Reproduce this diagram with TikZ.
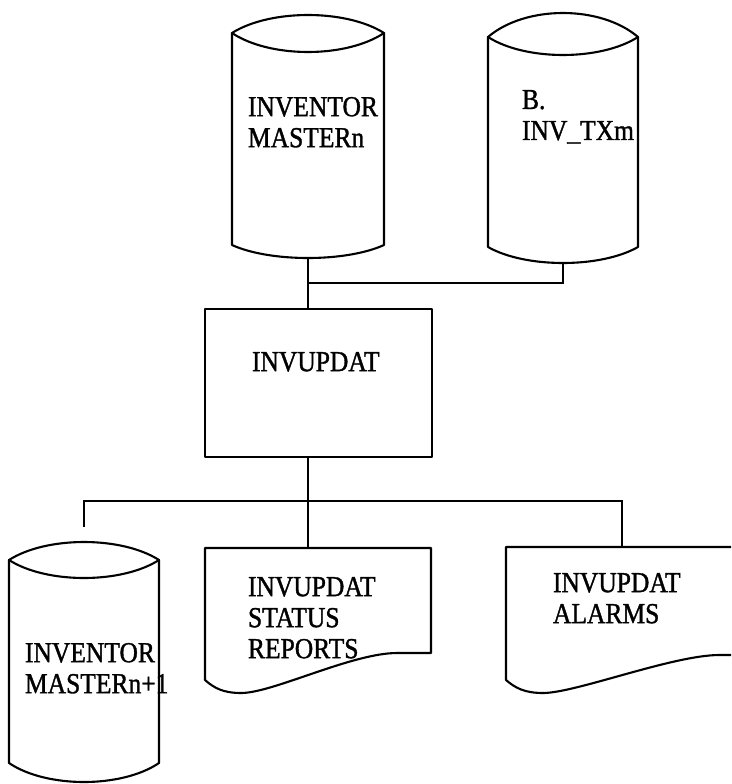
\documentclass[tikz,border=0pt]{standalone}
\usepackage{fontspec}
\setmainfont{Liberation Serif}[FakeStretch=0.88, FakeBold=1.2]
\usetikzlibrary{calc}
% cylinder: L R T(top of arc) C(corner) I(inner arc low) B(bottom corner) Z(bottom arc low)
\newcommand{\cylshape}[7]{%
  \pgfmathsetmacro{\cylw}{#2-#1}%
  \draw[shp] (#1,#4) .. controls ({#1+0.25*\cylw},{#4-(#4-#3)*4/3}) and ({#2-0.25*\cylw},{#4-(#4-#3)*4/3}) .. (#2,#4)
     -- (#2,#6) .. controls ({#2-0.25*\cylw},{#6+(#7-#6)*4/3}) and ({#1+0.25*\cylw},{#6+(#7-#6)*4/3}) .. (#1,#6) -- cycle;
  \draw[shp] (#1,#4) .. controls ({#1+0.25*\cylw},{#4+(#5-#4)*4/3}) and ({#2-0.25*\cylw},{#4+(#5-#4)*4/3}) .. (#2,#4);
}
% document: L R T RB(right bottom) LB(left bottom) Z(wave low) F(fraction where wave ends)
\newcommand{\docshape}[7]{%
  \pgfmathsetmacro{\docw}{#2-#1}%
  \draw[shp] (#2,#4) -- (#2,#3) -- (#1,#3) -- (#1,#5)
     .. controls ({#1+0.04*\docw},{#5+8}) and ({#1+0.08*\docw},{#6}) .. ({#1+0.16*\docw},{#6})
     .. controls ({#1+0.30*\docw},{#6}) and ({#1+(#7-0.2)*\docw},{#4}) .. ({#1+#7*\docw},{#4}) -- (#2,#4);
}
\tikzset{
  shp/.style={line width=2.1pt, line join=round, line cap=round},
  frame/.style={inner sep=0pt, outer sep=0pt, draw=none},
  conn/.style={line width=2.1pt},
  lbl/.style={anchor=north west, inner sep=0pt, outer sep=0pt, align=left,
              font=\fontsize{29}{31}\selectfont}
}
\begin{document}
\begin{tikzpicture}[x=1pt, y=-1pt]
\clip (0,0) rectangle (731,784);
\fill[white] (0,0) rectangle (731,784);

% shape frames (invisible, named)
\node[frame, minimum width=152pt, minimum height=243pt] (m1) at (308,136.5) {};
\node[frame, minimum width=150pt, minimum height=250pt] (tx) at (563,138) {};
\node[frame, minimum width=227pt, minimum height=148pt] (proc) at (318.5,383) {};
\node[frame, minimum width=150pt, minimum height=240pt] (m3) at (84,662) {};
\node[frame, minimum width=226pt, minimum height=145pt] (r1) at (318,620.5) {};
\node[frame, minimum width=232pt, minimum height=146pt] (r2) at (622,620) {};

% shapes
\cylshape{232}{384}{15}{33}{52}{245}{258}
\cylshape{488}{638}{13}{37}{55}{247}{263}
\draw[shp] (proc.north west) rectangle (proc.south east);
\cylshape{9}{159}{542}{560}{578}{763}{782}
\docshape{205}{431}{548}{653}{680}{693}{0.85}
\docshape{506}{738}{547}{655}{680}{693}{0.92}

% labels
\node[lbl] (m1t) at (248,97) {INVENTOR\\MASTERn};
\node[lbl] (txt) at (522,90) {B.\\INV\_TXm};
\node[lbl] (proct) at (252,352) {INVUPDAT};
\node[lbl] (r1t) at (248,577) {INVUPDAT\\STATUS\\REPORTS};
\node[lbl] (r2t) at (553,573) {INVUPDAT\\ALARMS};
\node[lbl] (m3t) at (25,643) {INVENTOR\\MASTERn+1};

% junction points
\coordinate (j1) at (308,283);
\coordinate (j2) at (308,501);

% connectors
\draw[conn] (m1.south) -- (proc.north -| m1.south);
\draw[conn] (tx.south) |- (j1);
\draw[conn] (proc.south -| j2) -- (r1.north -| j2);
\draw[conn] ([yshift=15pt]m3.north) |- (j2);
\draw[conn] (j2) -| (r2.north);
\end{tikzpicture}
\end{document}
